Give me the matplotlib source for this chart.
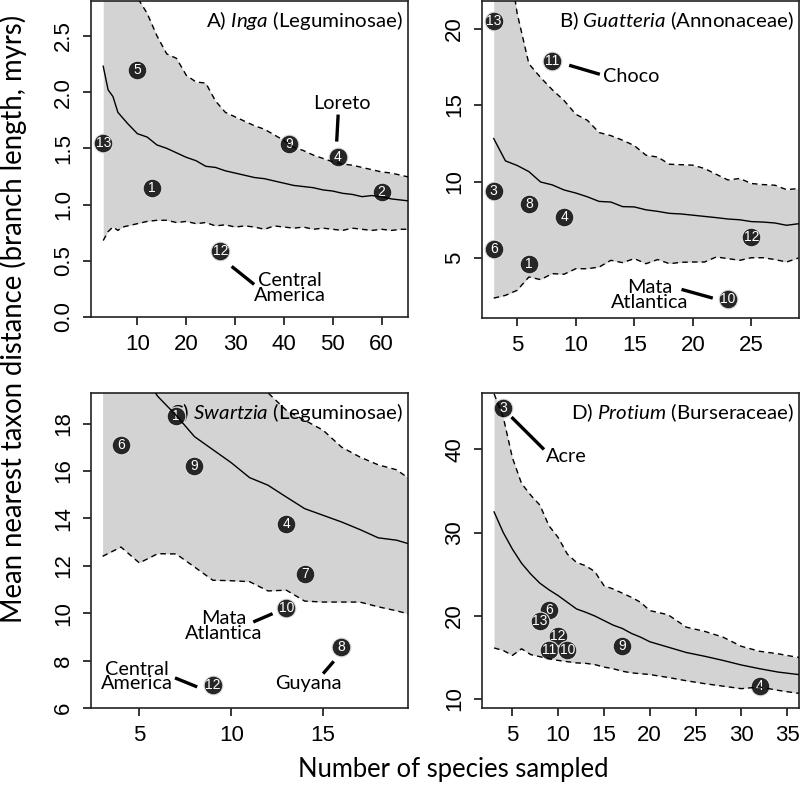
import numpy as np
import matplotlib
matplotlib.use("Agg")
import matplotlib.pyplot as plt

# ---- panel A: Inga ----
xa = [3, 4, 5, 6, 7, 8, 10, 12, 14, 16, 18, 20, 22, 24, 26, 28, 30, 32, 34, 36, 38, 40,
      42, 44, 46, 48, 50, 52, 54, 56, 58, 60, 62, 64, 66]
mean_a = [2.23, 2.02, 1.96, 1.82, 1.77, 1.72, 1.63, 1.60, 1.53, 1.50, 1.46, 1.42, 1.39, 1.34,
          1.33, 1.30, 1.28, 1.26, 1.24, 1.23, 1.21, 1.19, 1.17, 1.16, 1.15, 1.13, 1.12, 1.10,
          1.09, 1.07, 1.08, 1.07, 1.05, 1.04, 1.03]
upper_a = [4.50, 3.90, 3.50, 3.25, 3.05, 2.95, 2.84, 2.70, 2.50, 2.34, 2.30, 2.15, 2.09, 2.08,
           1.92, 1.82, 1.78, 1.74, 1.70, 1.67, 1.62, 1.57, 1.51, 1.48, 1.44, 1.41, 1.38, 1.36,
           1.35, 1.33, 1.31, 1.29, 1.28, 1.26, 1.24]
lower_a = [0.68, 0.76, 0.80, 0.77, 0.80, 0.81, 0.83, 0.85, 0.86, 0.86, 0.84, 0.85, 0.83, 0.84,
           0.81, 0.82, 0.80, 0.81, 0.80, 0.78, 0.81, 0.80, 0.79, 0.80, 0.78, 0.79, 0.78, 0.77,
           0.79, 0.78, 0.77, 0.78, 0.77, 0.78, 0.78]
site_a = ["5", "13", "1", "9", "4", "2", "12"]
px_a = [10, 3, 13, 41, 51, 60, 27]
py_a = [2.20, 1.55, 1.15, 1.54, 1.42, 1.11, 0.59]

# ---- panel B: Guatteria ----
xb = list(range(3, 30))
mean_b = [12.81, 11.35, 11.05, 10.65, 9.97, 9.78, 9.45, 9.25, 9.0, 8.7, 8.66, 8.36, 8.34, 8.15,
          8.05, 7.92, 7.88, 7.8, 7.72, 7.64, 7.55, 7.5, 7.38, 7.35, 7.29, 7.14, 7.24]
upper_b = [30.0, 26.0, 21.0, 17.7, 16.8, 16.0, 15.3, 14.4, 14.0, 13.2, 13.0, 12.7, 12.35, 11.72,
           11.6, 11.13, 11.1, 11.07, 10.85, 10.47, 10.1, 10.2, 9.87, 9.8, 9.76, 9.47, 9.54]
lower_b = [2.38, 2.56, 2.89, 3.76, 3.59, 3.98, 3.94, 4.3, 4.3, 4.41, 4.85, 4.7, 4.96, 4.63,
           4.9, 4.63, 4.72, 4.74, 4.74, 5.07, 4.96, 4.85, 5.02, 5.02, 4.9, 4.74, 5.0]
site_b = ["13", "11", "3", "8", "4", "6", "1", "12", "10"]
px_b = [3, 8, 3, 6, 9, 3, 6, 25, 23]
py_b = [20.5, 17.9, 9.4, 8.56, 7.68, 5.61, 4.63, 6.37, 2.34]

# ---- panel C: Swartzia ----
xc = list(range(3, 21))
mean_c = [23.5, 21.8, 20.3, 19.15, 18.35, 17.45, 16.9, 16.35, 15.72, 15.4, 14.9, 14.41, 14.13,
          13.85, 13.53, 13.18, 13.08, 12.85]
upper_c = [30.0, 28.0, 26.0, 24.5, 23.0, 22.0, 21.0, 20.3, 19.7, 19.3, 18.56, 18.14, 17.72,
           17.01, 16.59, 16.26, 16.05, 15.5]
lower_c = [12.4, 12.79, 12.12, 12.51, 12.5, 11.95, 11.39, 11.37, 11.33, 10.94, 10.97, 10.51,
           10.47, 10.47, 10.47, 10.27, 10.1, 9.9]
site_c = ["1", "6", "9", "4", "7", "10", "8", "12"]
px_c = [7, 4, 8, 13, 14, 13, 16, 9]
py_c = [18.31, 17.11, 16.21, 13.78, 11.67, 10.22, 8.57, 6.99]

# ---- panel D: Protium ----
xd = [3, 4, 5, 6, 7, 8, 9, 10, 11, 12, 13, 14, 15, 16, 17, 18, 19, 20, 22, 24, 26, 28, 30,
      32, 34, 36, 37]
mean_d = [32.48, 30.0, 28.0, 26.3, 25.0, 23.9, 23.1, 22.4, 21.6, 20.8, 20.4, 19.95, 19.4, 18.85,
          18.45, 17.85, 17.4, 16.85, 16.2, 15.55, 15.1, 14.6, 14.05, 13.6, 13.2, 12.93, 12.8]
upper_d = [46.7, 43.9, 39.0, 35.9, 34.5, 33.3, 30.8, 29.4, 27.4, 26.4, 26.0, 25.3, 23.6, 23.2,
           22.7, 22.2, 21.6, 20.6, 20.1, 18.6, 18.1, 17.4, 16.3, 15.7, 15.4, 15.0, 14.9]
lower_d = [16.1, 15.8, 15.2, 16.0, 15.3, 15.05, 14.8, 14.6, 14.45, 14.3, 14.25, 14.1, 13.8, 13.6,
           13.3, 13.1, 13.0, 12.9, 12.55, 12.15, 11.8, 11.5, 11.2, 11.4, 11.0, 10.67, 10.6]
site_d = ["3", "6", "13", "12", "11", "10", "9", "4"]
px_d = [4, 9, 8, 10, 9, 11, 17, 32]
py_d = [44.94, 20.64, 19.35, 17.59, 15.9, 15.9, 16.3, 11.48]

TICK_FONT = "Liberation Sans"
TEXT_FONT = "Lato"
plt.rcParams["mathtext.fontset"] = "custom"
plt.rcParams["mathtext.rm"] = TEXT_FONT
plt.rcParams["mathtext.it"] = TEXT_FONT + ":italic"

fig = plt.figure(figsize=(8, 7.85), dpi=100)
W, H = 800, 785


def make_ax(l, t, r, b):
    return fig.add_axes([l / W, 1 - b / H, (r - l) / W, (b - t) / H])


panels = [
    dict(ax=make_ax(91, 1, 408, 317), x=xa, m=mean_a, u=upper_a, lo=lower_a,
         s=site_a, px=px_a, py=py_a, xlim=(0.5, 65.4), ylim=(0, 2.81),
         xt=[10, 20, 30, 40, 50, 60], yt=[0.0, 0.5, 1.0, 1.5, 2.0, 2.5], yfmt="{:.1f}",
         title="A) $\\mathit{Inga}$ (Leguminosae)"),
    dict(ax=make_ax(482, 1, 799, 318), x=xb, m=mean_b, u=upper_b, lo=lower_b,
         s=site_b, px=px_b, py=py_b, xlim=(2.0, 29.06), ylim=(1.08, 21.8),
         xt=[5, 10, 15, 20, 25], yt=[5, 10, 15, 20], yfmt="{:d}",
         title="B) $\\mathit{Guatteria}$ (Annonaceae)"),
    dict(ax=make_ax(91, 393, 408, 708), x=xc, m=mean_c, u=upper_c, lo=lower_c,
         s=site_c, px=px_c, py=py_c, xlim=(2.37, 19.62), ylim=(6.0, 19.29),
         xt=[5, 10, 15], yt=[6, 8, 10, 12, 14, 16, 18], yfmt="{:d}",
         title="C) $\\mathit{Swartzia}$ (Leguminosae)"),
    dict(ax=make_ax(482, 393, 799, 708), x=xd, m=mean_d, u=upper_d, lo=lower_d,
         s=site_d, px=px_d, py=py_d, xlim=(1.68, 36.3), ylim=(8.87, 46.8),
         xt=[5, 10, 15, 20, 25, 30, 35], yt=[10, 20, 30, 40], yfmt="{:d}",
         title="D) $\\mathit{Protium}$ (Burseraceae)"),
]

titles = []
for p in panels:
    ax = p["ax"]
    ax.fill_between(p["x"], p["lo"], p["u"], color="#d3d3d3", lw=0, zorder=1)
    ax.plot(p["px"], p["py"], "o", ms=13.5, mfc="#262626", mec="#dddddd", mew=0.8,
            ls="none", zorder=4)
    for s, x, y in zip(p["s"], p["px"], p["py"]):
        ax.text(x, y, s, color="white", fontsize=10, family=TICK_FONT,
                ha="center", va="center", zorder=5)
    ax.plot(p["x"], p["m"], color="black", lw=1.0, zorder=6)
    ax.plot(p["x"], p["u"], color="black", lw=1.0, ls=(0, (4, 3)), zorder=6)
    ax.plot(p["x"], p["lo"], color="black", lw=1.0, ls=(0, (4, 3)), zorder=6)
    ax.set_xlim(*p["xlim"])
    ax.set_ylim(*p["ylim"])
    ax.set_xticks(p["xt"])
    ax.set_xticklabels([str(v) for v in p["xt"]])
    ax.set_yticks(p["yt"])
    ax.set_yticklabels([p["yfmt"].format(v) for v in p["yt"]])
    ax.tick_params(direction="out", length=6, width=1.1, labelsize=16, pad=6)
    ax.tick_params(axis="y", labelrotation=90)
    for lbl in ax.get_xticklabels() + ax.get_yticklabels():
        lbl.set_family(TICK_FONT)
    for lbl in ax.get_yticklabels():
        lbl.set_va("center")
    for sp in ax.spines.values():
        sp.set_linewidth(1.2)
        sp.set_color("#222222")
    titles.append(ax.text(0.985, 0.975, p["title"], transform=ax.transAxes, ha="right",
                          va="top", fontsize=14, family=TEXT_FONT, zorder=3))

# region labels with connector lines
def region(ax, text, tx, ty, x0, y0, x1, y1):
    ax.plot([x0, x1], [y0, y1], color="black", lw=2.4, solid_capstyle="butt", zorder=3)
    return ax.text(tx, ty, text, ha="center", va="center", fontsize=14, family=TEXT_FONT,
                   linespacing=0.85, zorder=7)

axA, axB, axC, axD = [p["ax"] for p in panels]
labels = [
    region(axA, "Loreto", 51.9, 1.90, 51.1, 1.80, 50.8, 1.56),
    region(axA, "Central\nAmerica", 41.2, 0.255, 29.3, 0.45, 33.9, 0.29),
    region(axB, "Choco", 14.76, 16.84, 9.44, 17.6, 12.06, 17.01),
    region(axB, "Mata\nAtlantica", 16.28, 2.58, 19.03, 2.95, 21.7, 2.38),
    region(axC, "Mata\nAtlantica", 9.57, 9.46, 11.2, 9.63, 12.25, 9.98),
    region(axC, "Central\nAmerica", 4.86, 7.33, 6.94, 7.27, 8.15, 6.89),
    region(axC, "Guyana", 14.18, 7.03, 15.0, 7.45, 15.58, 7.97),
    region(axD, "Acre", 10.9, 39.2, 4.9, 43.9, 8.45, 40.0),
]

xlab = fig.text(453 / W, 1 - 770 / H, "Number of species sampled", ha="center",
                va="center", fontsize=18, family=TEXT_FONT)
ylab = fig.text(13 / W, 1 - 319 / H, "Mean nearest taxon distance (branch length, myrs)",
                ha="center", va="center", rotation=90, fontsize=18, family=TEXT_FONT)

# scale the Calibri-like text so its width matches the reference
fig.canvas.draw()
r = fig.canvas.get_renderer()


def fit(ref, target, group, horizontal=True):
    bb = ref.get_window_extent(r)
    size = ref.get_fontsize() * target / (bb.width if horizontal else bb.height)
    for t in group:
        t.set_fontsize(size)


fit(titles[0], 197, titles)
fit(labels[1], 72, labels)
fit(xlab, 310, [xlab])
fit(ylab, 608, [ylab], horizontal=False)

fig.savefig("out.png", dpi=100)
